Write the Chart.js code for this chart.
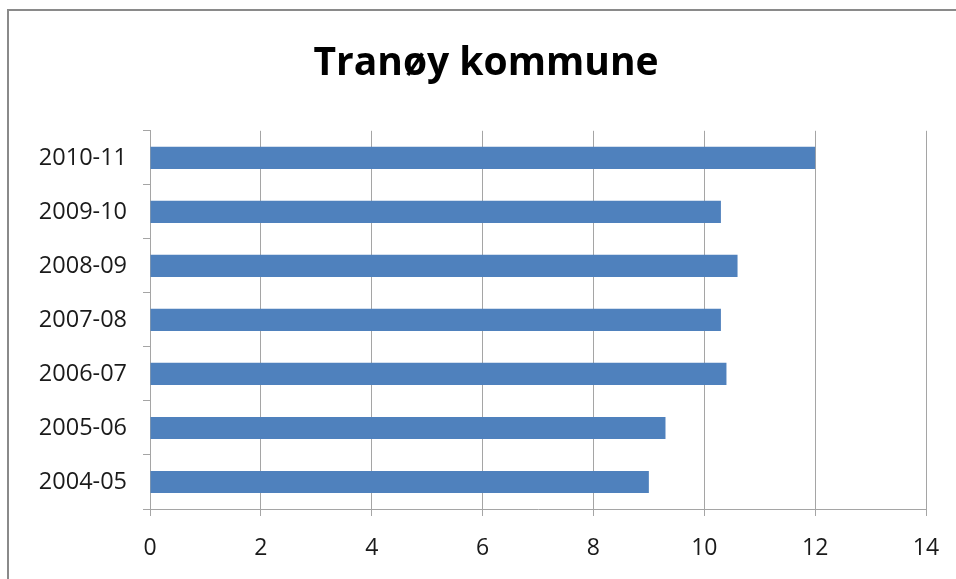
<!DOCTYPE html>
<html>
<head>
<meta charset="utf-8">
<script src="https://cdn.jsdelivr.net/npm/chart.js@4.4.0/dist/chart.umd.min.js"></script>
<style>
  html, body { margin: 0; padding: 0; background: #fff; overflow: hidden; }
  #wrap { position: absolute; left: 0; top: 0; width: 972px; height: 579px; }
  #frame { position: absolute; left: 7px; top: 9px; width: 970px; height: 600px; border: 2px solid #8a8a8a; box-sizing: border-box; pointer-events: none; }
</style>
</head>
<body>
<div id="wrap"><canvas id="tranoyChart" width="972" height="579"></canvas></div>
<div id="frame"></div>
<script>
// Tranøy kommune, one value per school year
const years = ['2004-05', '2005-06', '2006-07', '2007-08', '2008-09', '2009-10', '2010-11'];
const values = [9.0, 9.3, 10.4, 10.3, 10.6, 10.3, 12.0];
const xTicks = [0, 2, 4, 6, 8, 10, 12, 14];

const gridGray = '#a5a5a5';

// centre the title on the whole frame, not on the padded layout box
const centerTitle = {
  id: 'centerTitle',
  afterLayout(chart) {
    if (chart.titleBlock) {
      chart.titleBlock.left = 0;
      chart.titleBlock.right = chart.width;
    }
  },
};

const ctx = document.getElementById('tranoyChart');
new Chart(ctx, {
  type: 'bar',
  data: {
    labels: years,
    datasets: [
      {
        data: values,
        backgroundColor: '#4f81bd',
        borderWidth: 0,
        categoryPercentage: 1.0,
        barPercentage: 0.41,
      },
    ],
  },
  options: {
    indexAxis: 'y',
    responsive: false,
    animation: false,
    layout: {
      padding: { left: 0, right: 46, top: 0, bottom: 0 },
    },
    scales: {
      x: {
        min: 0,
        max: 14,
        afterBuildTicks: (scale) => {
          scale.ticks = xTicks.map(v => ({ value: v }));
        },
        afterFit: (scale) => {
          scale.height = 70;
        },
        grid: {
          color: gridGray,
          lineWidth: 1,
          tickLength: 7,
        },
        border: { color: gridGray, width: 1 },
        ticks: {
          color: '#1a1a1a',
          padding: 19,
          font: { family: 'Open Sans', size: 23 },
        },
      },
      y: {
        reverse: true,
        afterFit: (scale) => {
          scale.width = 150;
        },
        grid: {
          offset: true,
          drawOnChartArea: false,
          color: gridGray,
          tickLength: 7,
        },
        border: { color: gridGray, width: 1 },
        ticks: {
          color: '#1a1a1a',
          padding: 16,
          font: { family: 'Open Sans', size: 23.5 },
        },
      },
    },
    plugins: {
      legend: { display: false },
      tooltip: { enabled: false },
      title: {
        display: true,
        text: 'Tranøy kommune',
        color: '#000',
        font: { family: 'Open Sans', size: 39, weight: 'bold' },
        padding: { top: 40, bottom: 44 },
      },
    },
  },
  plugins: [centerTitle],
});
</script>
</body>
</html>
